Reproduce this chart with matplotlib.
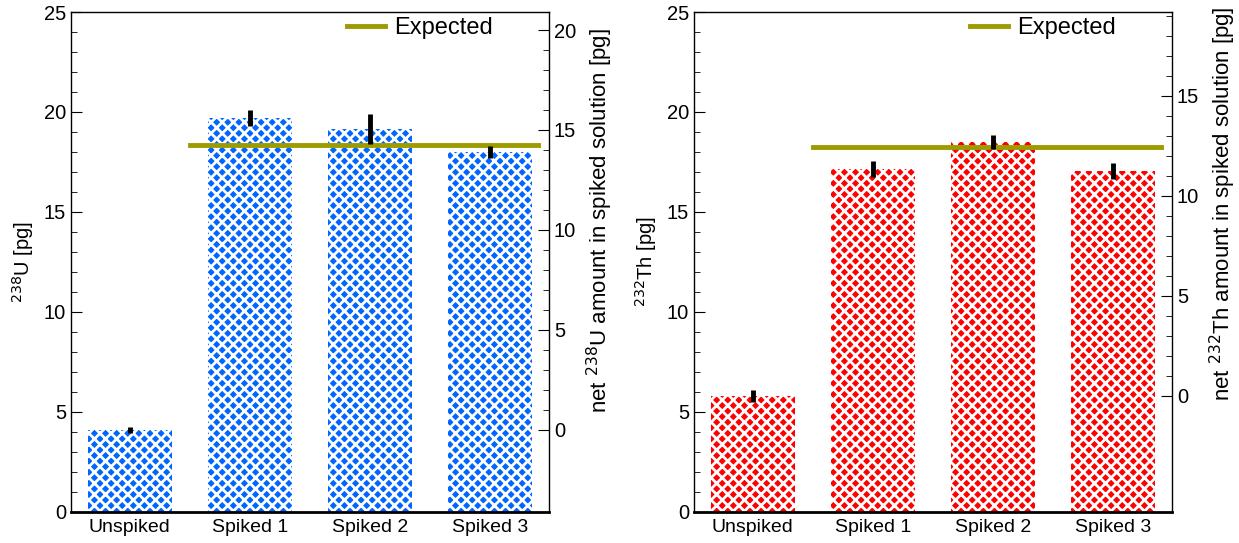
import numpy as np
from matplotlib import pyplot as plt
from matplotlib.ticker import MultipleLocator, FixedLocator

plt.rcParams['font.family'] = ['Liberation Sans', 'DejaVu Sans']
plt.rcParams['hatch.linewidth'] = 2.0

samples = ["Unspiked", "Spiked 1", "Spiked 2", "Spiked 3"]

u238 = [4.1, 19.7, 19.15, 18.0]
u238_err = [0.15, 0.4, 0.75, 0.3]
u238_expected = 18.35

th232 = [5.8, 17.15, 18.5, 17.05]
th232_err = [0.3, 0.4, 0.35, 0.4]
th232_expected = 18.25

expected_span = (0.5, 3.4)

panels = [
    (u238, u238_err, u238_expected, "#0066ff", "U",
     [0.0573, 0.0571, 0.3858, 0.9208], [0, 5, 10, 15, 20]),
    (th232, th232_err, th232_expected, "#ff0000", "Th",
     [0.5601, 0.0571, 0.3858, 0.9208], [0, 5, 10, 15]),
]
isotopes = {"U": "238", "Th": "232"}

fig = plt.figure(figsize=(12.39, 5.43), dpi=100)

for vals, errs, expected, color, elem, rect, rticks in panels:
    ax = fig.add_axes(rect)
    x = np.arange(len(samples))
    ax.bar(x, vals, width=0.7, color=color, edgecolor="white",
           linewidth=0, hatch="xxx", zorder=1)
    ax.errorbar(x, vals, yerr=errs, fmt="none", ecolor="black",
                elinewidth=3.5, capsize=0, zorder=3)
    ax.plot(expected_span, [expected, expected], color="#9c9c00",
            linewidth=3.5, zorder=2, label="Expected")

    ax.set_xlim(-0.49, 3.49)
    ax.set_ylim(0, 25)
    ax.set_xticks(x)
    ax.set_xticklabels(samples, fontsize=14)
    ax.tick_params(axis="x", length=0, pad=5)
    ax.yaxis.set_major_locator(MultipleLocator(5))
    ax.yaxis.set_minor_locator(MultipleLocator(1))
    ax.tick_params(axis="y", which="both", direction="in", labelsize=14.5)
    ax.tick_params(axis="y", which="major", length=8)
    ax.tick_params(axis="y", which="minor", length=4)
    iso = isotopes[elem]
    ax.set_ylabel(r"$^{%s}$%s [pg]" % (iso, elem), fontsize=14.5, labelpad=6)

    for s in ["left", "right", "top"]:
        ax.spines[s].set_linewidth(1.0)
    ax.spines["bottom"].set_linewidth(2.0)

    offset = vals[0]
    ax2 = ax.twinx()
    ax2.set_ylim(0 - offset, 25 - offset)
    ax2.yaxis.set_major_locator(FixedLocator(rticks))
    ax2.yaxis.set_minor_locator(FixedLocator(np.arange(0, 25 - offset, 1)))
    ax2.tick_params(axis="y", which="both", direction="in", labelsize=14.5)
    ax2.tick_params(axis="y", which="major", length=8)
    ax2.tick_params(axis="y", which="minor", length=4)
    ax2.set_ylabel(r"net $^{%s}$%s amount in spiked solution [pg]" % (iso, elem),
                   fontsize=16, labelpad=6)
    # centre the net label on the visible part of the right axis
    ax2.yaxis.label.set_y((offset + 25) / 50)
    for s in ["left", "right", "top", "bottom"]:
        ax2.spines[s].set_visible(False)

    ax.legend(loc="center left", bbox_to_anchor=(0.577, 0.968), frameon=False,
              fontsize=17, handlelength=1.6, handletextpad=0.4,
              borderpad=0, borderaxespad=0)

fig.savefig("out.png", dpi=100)
